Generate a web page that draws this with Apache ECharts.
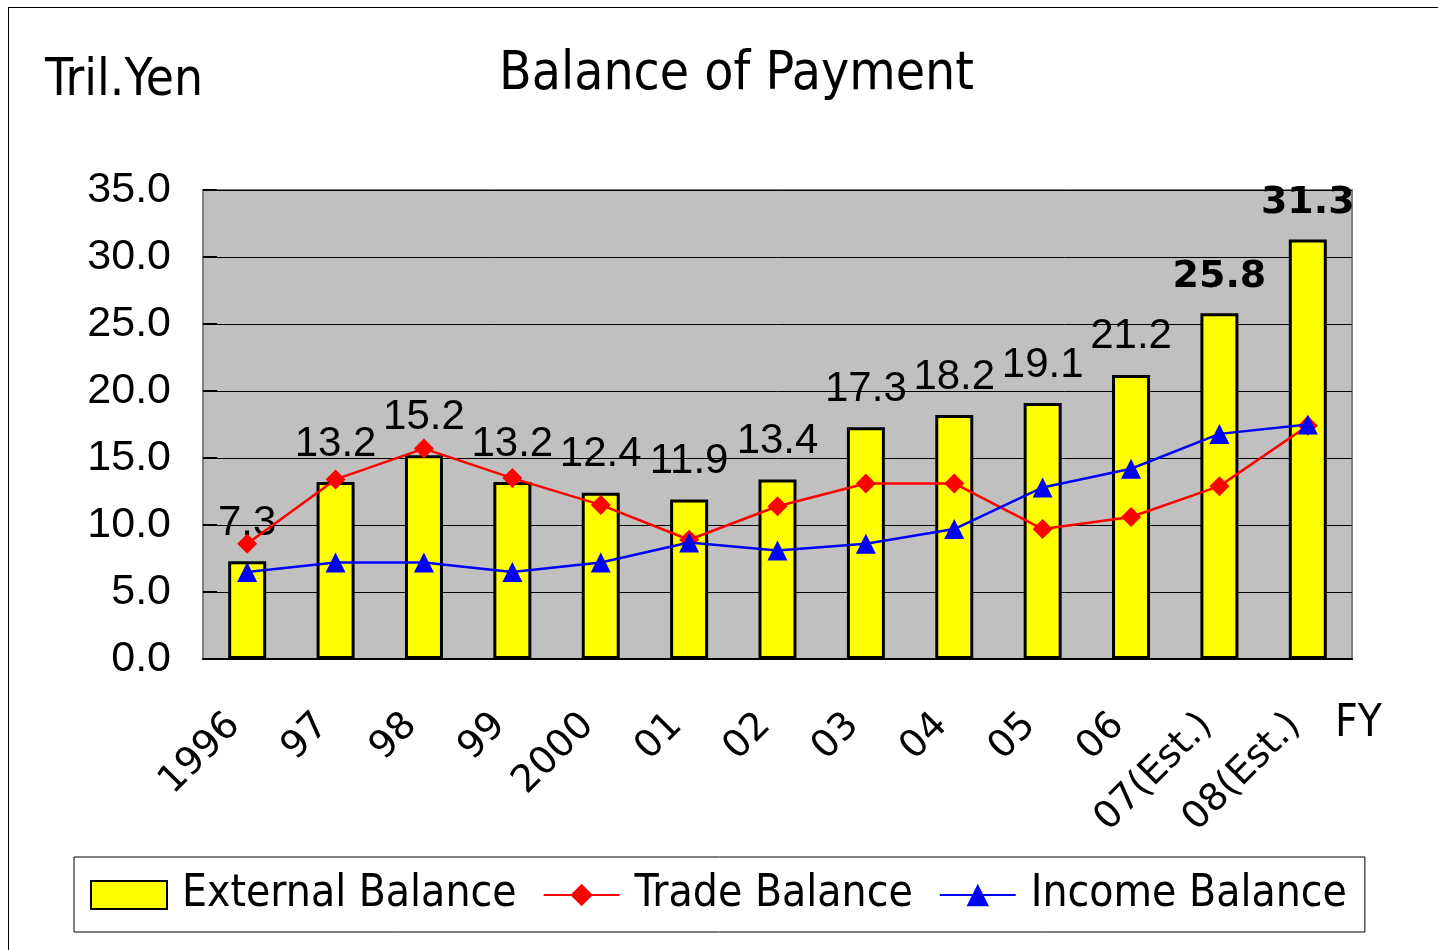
<!DOCTYPE html>
<html>
<head>
    <meta charset="utf-8" />
    <script src="https://cdn.jsdelivr.net/npm/echarts@6/dist/echarts.min.js"></script>
    <style>
        body { margin: 0; background: #fff; }
        #frame { position: absolute; left: 8px; top: 7px; width: 1500px; height: 1000px;
                 border-left: 1.5px solid #000; border-top: 1.5px solid #000; pointer-events: none; }
    </style>
</head>
<body>
    <div id="main" style="position:absolute;left:0;top:0;width:1438px;height:950px;"></div>
    <div id="frame"></div>
    <script type="text/javascript">
        // 数据
        var years = ['1996', '97', '98', '99', '2000', '01', '02', '03', '04', '05', '06', '07(Est.)', '08(Est.)'];
        var externalBalance = [7.3, 13.2, 15.2, 13.2, 12.4, 11.9, 13.4, 17.3, 18.2, 19.1, 21.2, 25.8, 31.3];
        var tradeBalance = [8.6, 13.4, 15.7, 13.5, 11.5, 8.9, 11.4, 13.1, 13.1, 9.7, 10.6, 12.9, 17.4];
        var incomeBalance = [6.5, 7.2, 7.2, 6.5, 7.2, 8.7, 8.1, 8.6, 9.7, 12.8, 14.2, 16.8, 17.5];

        var narrow = '"Liberation Sans Narrow", "DejaVu Sans Condensed", "Liberation Sans", sans-serif';
        var firstEstimate = 11; // 最后两个数值用粗体

        var myChart = echarts.init(document.getElementById('main'));

        var barData = externalBalance.map(function (v, i) {
            if (i >= firstEstimate) {
                return {
                    value: v,
                    label: { fontFamily: '"DejaVu Sans"', fontWeight: 'bold', fontSize: 38 }
                };
            }
            return v;
        });

        var option = {
            animation: false,
            title: [
                {
                    text: 'Balance of Payment',
                    left: 494,
                    top: 44,
                    textStyle: { fontFamily: narrow, fontWeight: 'normal', fontSize: 53, color: '#000' }
                },
                {
                    text: 'Tril.Yen',
                    left: 40,
                    top: 51,
                    textStyle: { fontFamily: narrow, fontWeight: 'normal', fontSize: 51, color: '#000' }
                },
                {
                    text: 'FY',
                    left: 1330,
                    top: 698,
                    textStyle: { fontFamily: narrow, fontWeight: 'normal', fontSize: 44, color: '#000' }
                }
            ],
            legend: {
                left: 74,
                top: 857,
                padding: [16, 18, 15, 16],
                itemWidth: 76,
                itemHeight: 28,
                itemGap: 26,
                borderColor: '#000',
                borderWidth: 1,
                backgroundColor: '#fff',
                textStyle: { fontFamily: narrow, fontSize: 44, color: '#000', padding: [0, 0, 0, 10] },
                data: [
                    { name: 'External Balance', icon: 'rect' },
                    'Trade Balance',
                    'Income Balance'
                ]
            },
            grid: {
                left: 203,
                right: 86,
                top: 190,
                bottom: 291,
                show: true,
                backgroundColor: '#C0C0C0',
                borderColor: '#808080',
                borderWidth: 2
            },
            xAxis: {
                type: 'category',
                data: years,
                axisLine: { show: true, lineStyle: { color: '#000', width: 2 } },
                axisTick: { show: false },
                axisLabel: {
                    interval: 0,
                    rotate: 45,
                    margin: 48,
                    padding: [0, 18, 0, 0],
                    fontFamily: '"DejaVu Sans"',
                    fontSize: 38,
                    color: '#000'
                }
            },
            yAxis: {
                type: 'value',
                min: 0,
                max: 35,
                interval: 5,
                axisLine: { show: true, lineStyle: { color: '#808080', width: 2 } },
                axisTick: { show: true, inside: true, length: 14, lineStyle: { color: '#000', width: 2 } },
                splitLine: { show: true, lineStyle: { color: '#000', width: 1 } },
                axisLabel: {
                    margin: 32,
                    fontFamily: '"Liberation Sans"',
                    fontSize: 43,
                    color: '#000',
                    formatter: function (v) { return v.toFixed(1); }
                }
            },
            series: [
                {
                    name: 'External Balance',
                    type: 'bar',
                    barWidth: 38,
                    data: barData,
                    itemStyle: { color: '#FFFF00', borderColor: '#000', borderWidth: 3 },
                    label: {
                        show: true,
                        position: 'top',
                        distance: 17,
                        fontFamily: '"Liberation Sans"',
                        fontSize: 42,
                        color: '#000',
                        formatter: function (p) { return p.value.toFixed(1); }
                    },
                    z: 2
                },
                {
                    name: 'Trade Balance',
                    type: 'line',
                    data: tradeBalance,
                    symbol: 'diamond',
                    symbolSize: 20,
                    lineStyle: { color: '#FF0000', width: 2.5 },
                    itemStyle: { color: '#FF0000' },
                    z: 3
                },
                {
                    name: 'Income Balance',
                    type: 'line',
                    data: incomeBalance,
                    symbol: 'triangle',
                    symbolSize: 20,
                    lineStyle: { color: '#0000FF', width: 2.5 },
                    itemStyle: { color: '#0000FF' },
                    z: 4
                }
            ]
        };

        myChart.setOption(option);
    </script>
</body>
</html>
